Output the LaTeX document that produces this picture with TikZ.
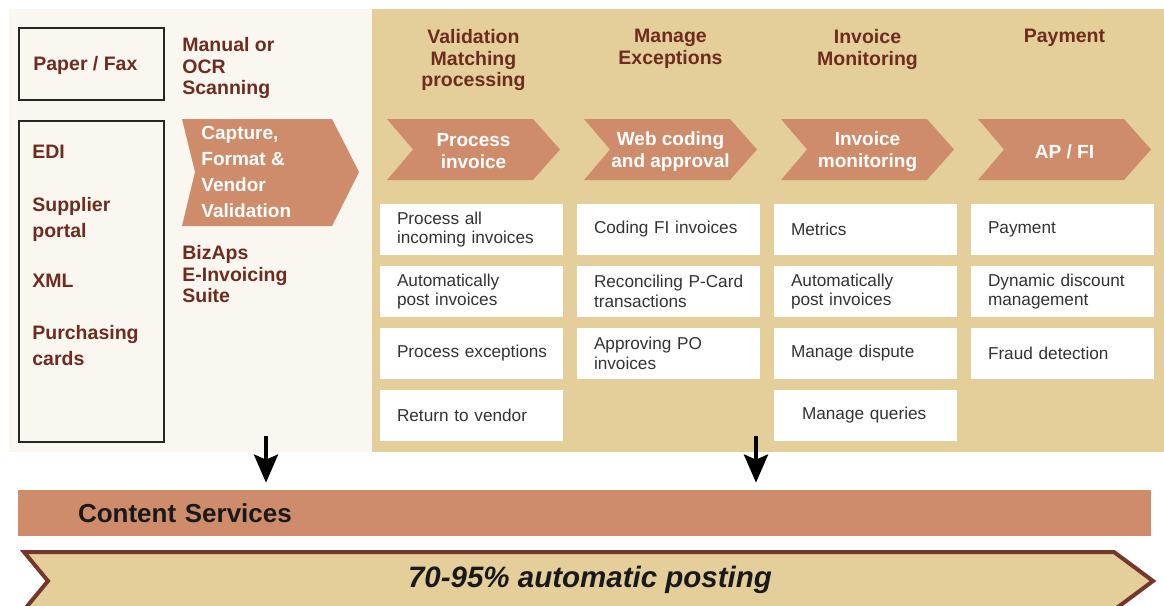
\documentclass[tikz,border=0pt]{standalone}
\usepackage{fontspec}
\setmainfont{Liberation Sans}
\usetikzlibrary{arrows.meta}

\definecolor{cream}{HTML}{FAF7F0}
\definecolor{gold}{HTML}{E4CF9B}
\definecolor{salmon}{HTML}{CF8C6B}
\definecolor{rust}{HTML}{6E2C1E}
\definecolor{ink}{HTML}{333333}

\begin{document}
\begin{tikzpicture}[
        x=0.5pt, y=-0.5pt,
        head/.style={font=\fontsize{9.75pt}{10.75pt}\selectfont\bfseries, text=rust, align=center, inner sep=0pt},
        lefthead/.style={head, align=left, anchor=north west},
        chevtext/.style={font=\fontsize{9.5pt}{11pt}\selectfont\bfseries, text=white, align=center, inner sep=0pt},
        item/.style={fill=white, minimum width=91.5pt, minimum height=25.5pt, text width=74.5pt,
            inner xsep=8.5pt, inner ysep=0pt, align=left, font=\fontsize{8.6pt}{9.75pt}\selectfont, text=ink},
        srcbox/.style={draw=black!85, line width=0.6pt, minimum width=72.5pt},
        src/.style={font=\fontsize{9.75pt}{12.8pt}\selectfont\bfseries, text=rust, align=left, anchor=north west, inner sep=0pt},
        bar/.style={fill=salmon, minimum width=566.5pt, minimum height=23pt, text width=506.5pt, inner xsep=30pt,
            align=left, font=\fontsize{13pt}{15pt}\selectfont\bfseries, text=black!90},
        flow/.style={line width=2pt, -{Stealth[length=14pt,width=12pt,inset=2.5pt]}, shorten >=3.5pt}
    ]
    \useasboundingbox (0,0) rectangle (1164,606);
    % backgrounds
    \fill[cream] (9,9) rectangle (372,452);
    \fill[gold] (372,9) rectangle (1164,452);

    % input channels
    \node[srcbox, minimum height=36pt] (paper) at (91.5,64) {};
    \node[src] (papertxt) at (33,56) {Paper / Fax};
    \node[srcbox, minimum height=160.5pt] (channels) at (91.5,281.5) {};
    \node[src] (edi) at (32,145) {EDI};
    \node[src] (portal) at (32,197) {Supplier\\portal};
    \node[src] (xml) at (32,274) {XML};
    \node[src] (cards) at (32,325) {Purchasing\\cards};

    % capture step
    \node[lefthead] (ocr) at (182,37) {Manual or\\OCR\\Scanning};
    \fill[salmon] (182,119) -- (332,119) -- (359,172) -- (332,226) -- (182,226) -- (195,172) -- cycle;
    \node[chevtext, align=left, anchor=north west, font=\fontsize{9.5pt}{13pt}\selectfont\bfseries]
        (capture) at (201,126) {Capture,\\Format \&\\Vendor\\Validation};
    \node[lefthead] (bizaps) at (182,245) {BizAps\\E-Invoicing\\Suite};

    % process columns
    \foreach \i/\head/\step/\ty in {
            0/{Validation\\Matching\\processing}/{Process\\invoice}/133,
            1/{Manage\\Exceptions}/{Web coding\\and approval}/131,
            2/{Invoice\\Monitoring}/{Invoice\\monitoring}/131,
            3/{Payment}/{AP / FI}/144} {
        \pgfmathsetmacro\cx{473.5+197*\i}
        \node[head, anchor=north] (head\i) at (\cx,29) {\head};
        \fill[salmon] (\cx-86.5,119) -- (\cx+59.5,119) -- (\cx+86.5,149.5) -- (\cx+59.5,180)
            -- (\cx-86.5,180) -- (\cx-60.5,149.5) -- cycle;
        \node[chevtext, anchor=north] (step\i) at (\cx,\ty) {\step};
    }

    \node[item] (val1) at (471.5,229.5) {Process all\\incoming invoices};
    \node[item] (val2) at (471.5,291.5) {Automatically\\post invoices};
    \node[item] (val3) at (471.5,353.5) {\mbox{Process exceptions}};
    \node[item] (val4) at (471.5,415.5) {Return to vendor};

    \node[item] (exc1) at (668.5,229.5) {Coding FI invoices};
    \node[item] (exc2) at (668.5,291.5) {\mbox{Reconciling P-Card}\\transactions};
    \node[item] (exc3) at (668.5,353.5) {Approving PO\\invoices};

    \node[item] (mon1) at (865.5,229.5) {Metrics};
    \node[item] (mon2) at (865.5,291.5) {Automatically\\post invoices};
    \node[item] (mon3) at (865.5,353.5) {Manage dispute};
    \node[item] (mon4) at (865.5,415.5) {\hspace*{5.5pt}Manage queries};

    \node[item] (pay1) at (1062.5,229.5) {Payment};
    \node[item] (pay2) at (1062.5,291.5) {\mbox{Dynamic discount}\\management};
    \node[item] (pay3) at (1062.5,353.5) {Fraud detection};

    % content services
    \node[bar] (cs) at (584.5,513) {Content Services};
    \coordinate (drop1) at (266,436);
    \coordinate (drop2) at (756,436);
    \draw[flow] (drop1) -- (drop1 |- cs.north);
    \draw[flow] (drop2) -- (drop2 |- cs.north);

    % posting band
    \begin{scope}
        \clip (0,0) rectangle (1164,606);
        \fill[gold] (24,610) -- (48,581) -- (24,552) -- (1114,552) -- (1153,581) -- (1114,610) -- cycle;
        \draw[rust!95, line width=2pt] (24,610) -- (48,581) -- (24,552) -- (1114,552) -- (1153,581) -- (1114,610);
    \end{scope}
    \node[font=\fontsize{14.75pt}{17pt}\selectfont\bfseries\itshape, text=black!90, inner sep=0pt]
        (posting) at (590,580) {70-95\% automatic posting};
\end{tikzpicture}
\end{document}
